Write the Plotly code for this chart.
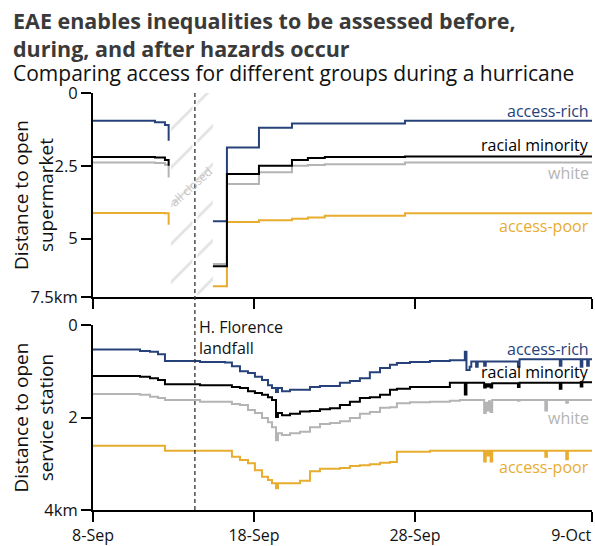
import pandas as pd
import plotly.graph_objects as go

START = pd.Timestamp("2018-09-08")
END = pd.Timestamp("2018-10-09")

SERIES = ["access-rich", "racial minority", "white", "access-poor"]
COLORS = {"access-rich": "#27427a", "racial minority": "#000000",
          "white": "#b4b4b4", "access-poor": "#e8ad2f"}

# ---- Top panel: distance to open supermarket (km), days since 8-Sep ----
top_days = [0, 3.85, 4.47, 4.7, 6.0, 7.45, 8.32, 10.31, 12.36, 13.35, 14.4, 19.38, 31]
top_rich = [0.95, 1.0, 1.1, 1.64, None, 4.4, 1.87, 1.19, 1.05, 1.05, 1.05, 0.95, 0.95]
top_minority = [2.2, 2.21, 2.3, 2.5, None, 5.95, 2.78, 2.5, 2.3, 2.23, 2.2, 2.18, 2.18]
top_white = [2.39, 2.4, 2.46, 2.9, None, 5.87, 3.12, 2.72, 2.5, 2.47, 2.45, 2.39, 2.39]
top_poor = [4.12, 4.12, 4.13, 4.52, None, 6.63, 4.43, 4.37, 4.32, 4.27, 4.21, 4.13, 4.13]

# ---- Bottom panel: distance to open service station (km) ----
bot_days = [0, 2.3, 2.92, 3.54, 4.04, 4.47, 6.65, 8.2, 8.63, 9.13, 9.63, 10.06, 10.5,
            10.87, 11.12, 11.37, 11.49, 11.74, 12.24, 12.86, 13.48, 14.1, 14.72, 15.34,
            15.96, 16.58, 17.2, 17.83, 18.45, 18.88, 19.69, 20.93, 22.17, 22.8, 23.1,
            23.2, 23.4, 23.5, 23.8, 23.9, 24.3, 24.4, 24.5, 24.6, 24.7, 24.8, 25.3,
            26.4, 26.5, 28.1, 28.2, 29.0, 29.1, 29.4, 29.5, 30.3, 30.4, 30.7, 30.8, 31.0]
bot_rich = [0.53, 0.53, 0.56, 0.58, 0.63, 0.78, 0.80, 0.81, 0.89, 1.0, 1.04, 1.12, 1.19,
            1.30, 1.36, 1.45, 1.36, 1.43, 1.40, 1.40, 1.34, 1.32, 1.32, 1.25, 1.21, 1.15,
            1.02, 0.93, 0.86, 0.82, 0.80, 0.78, 0.76, 0.76, 0.58, 0.97, 0.9, 0.79, 0.9,
            0.79, 0.88, 0.79, 0.79, 0.79, 0.79, 0.79, 0.79, 0.9, 0.74, 0.74, 0.74, 0.88,
            0.74, 0.74, 0.74, 0.9, 0.74, 0.88, 0.74, 0.74]
bot_minority = [1.10, 1.10, 1.12, 1.15, 1.19, 1.28, 1.30, 1.30, 1.34, 1.36, 1.43, 1.47,
                1.51, 1.56, 1.62, 1.99, 1.90, 1.95, 1.92, 1.87, 1.86, 1.82, 1.80, 1.73,
                1.66, 1.58, 1.56, 1.51, 1.40, 1.38, 1.34, 1.34, 1.25, 1.25, 1.5, 1.25,
                1.25, 1.25, 1.25, 1.25, 1.35, 1.28, 1.33, 1.28, 1.35, 1.26, 1.26, 1.34,
                1.25, 1.25, 1.25, 1.38, 1.25, 1.25, 1.25, 1.33, 1.24, 1.24, 1.24, 1.24]
bot_white = [1.49, 1.49, 1.51, 1.55, 1.58, 1.62, 1.66, 1.66, 1.71, 1.73, 1.84, 1.90, 2.01,
             2.10, 2.21, 2.49, 2.34, 2.38, 2.34, 2.31, 2.21, 2.14, 2.12, 2.08, 2.01, 1.92,
             1.88, 1.79, 1.78, 1.69, 1.67, 1.66, 1.64, 1.62, 1.62, 1.62, 1.62, 1.62, 1.62,
             1.62, 1.9, 1.68, 1.85, 1.65, 1.88, 1.62, 1.62, 1.64, 1.62, 1.85, 1.62, 1.62,
             1.62, 1.68, 1.62, 1.62, 1.62, 1.62, 1.62, 1.62]
bot_poor = [2.61, 2.61, 2.61, 2.61, 2.61, 2.72, 2.72, 2.72, 2.85, 2.92, 2.99, 3.14, 3.28,
            3.35, 3.42, 3.53, 3.42, 3.42, 3.42, 3.37, 3.16, 3.11, 3.11, 3.09, 3.05, 3.03,
            3.01, 2.98, 2.96, 2.74, 2.74, 2.72, 2.72, 2.72, 2.72, 2.72, 2.72, 2.72, 2.72,
            2.72, 2.95, 2.72, 2.82, 2.72, 2.95, 2.72, 2.72, 2.72, 2.72, 2.85, 2.72, 2.72,
            2.72, 2.9, 2.72, 2.72, 2.72, 2.72, 2.72, 2.72]

closure_days = [4.84, 7.45]        # "all closed" period
landfall_day = 6.33                # H. Florence landfall
date_ticks = ["2018-09-08", "2018-09-18", "2018-09-28", "2018-10-09"]
NB = "\u00a0"
date_ticktext = ["8-Sep", "18-Sep", "28-Sep", "9-Oct" + NB * 10]
top_ticks = [0, 2.5, 5, 7]
top_ticktext = ["0", "2.5", "5", "7.5km"]
bot_ticks = [0, 2, 4]
bot_ticktext = ["0", "2", "4km"]

TITLE = "<b>EAE enables inequalities to be assessed before,<br>during, and after hazards occur</b>"
SUBTITLE = "Comparing access for different groups during a hurricane"


def to_dates(days):
    return [START + pd.Timedelta(days=d) for d in days]


FONT = "Open Sans"
TXT = "#111111"
fig = go.Figure()

# hatched "all closed" block
cx = to_dates(closure_days)
fig.add_trace(go.Scatter(
    x=[cx[0], cx[1], cx[1], cx[0], cx[0]], y=[0, 0, 7, 7, 0],
    mode="lines", fill="toself", line=dict(width=0), fillcolor="rgba(0,0,0,0)",
    fillpattern=dict(shape="/", size=27, solidity=0.1, fgcolor="#c6c6c6",
                     bgcolor="rgba(0,0,0,0)"),
    hoverinfo="skip", showlegend=False, xaxis="x", yaxis="y"))

top_vals = {"access-rich": top_rich, "racial minority": top_minority,
            "white": top_white, "access-poor": top_poor}
bot_vals = {"access-rich": bot_rich, "racial minority": bot_minority,
            "white": bot_white, "access-poor": bot_poor}
order = ["white", "access-poor", "access-rich", "racial minority"]
for name in order:
    fig.add_trace(go.Scatter(x=to_dates(top_days), y=top_vals[name], mode="lines",
                             line=dict(color=COLORS[name], width=2, shape="hv"),
                             connectgaps=False, showlegend=False, xaxis="x", yaxis="y"))
for name in order:
    fig.add_trace(go.Scatter(x=to_dates(bot_days), y=bot_vals[name], mode="lines",
                             line=dict(color=COLORS[name], width=2, shape="hv"),
                             showlegend=False, xaxis="x2", yaxis="y2"))

# series labels
top_label_y = {"access-rich": 0.62, "racial minority": 1.78, "white": 2.74, "access-poor": 4.55}
bot_label_y = {"access-rich": 0.52, "racial minority": 1.02, "white": 2.01, "access-poor": 3.07}
for name in SERIES:
    fig.add_annotation(x=END, y=top_label_y[name], xref="x", yref="y", text=name,
                       xanchor="right", yanchor="middle", showarrow=False, xshift=-1,
                       font=dict(family=FONT, size=16, color=COLORS[name]))
    fig.add_annotation(x=END, y=bot_label_y[name], xref="x2", yref="y2", text=name,
                       xanchor="right", yanchor="middle", showarrow=False, xshift=-1,
                       font=dict(family=FONT, size=16, color=COLORS[name]))

landfall = START + pd.Timedelta(days=landfall_day)
fig.add_shape(type="line", x0=landfall, x1=landfall, y0=0, y1=7, xref="x", yref="y",
              line=dict(color="white", width=5), layer="above")
fig.add_shape(type="line", x0=landfall, x1=landfall, y0=0, y1=1, xref="x2", yref="paper",
              line=dict(color="#333333", width=1.3, dash="4px,3px"), layer="above")
fig.add_annotation(x=landfall, y=0, xref="x2", yref="y2", text="H. Florence<br>landfall",
                   xanchor="left", yanchor="top", align="left", showarrow=False, xshift=2,
                   yshift=11, font=dict(family=FONT, size=16, color=TXT))
fig.add_annotation(x=START + pd.Timedelta(days=6.1), y=3.2, xref="x", yref="y",
                   text="all closed", textangle=-42, showarrow=False,
                   font=dict(family=FONT, size=12, color="#c4c4c4"))

# axis titles
fig.add_annotation(x=0, y=0.5, xref="paper", yref="y domain", text="Distance to open<br>supermarket",
                   textangle=-90, showarrow=False, xshift=-59, xanchor="center",
                   font=dict(family=FONT, size=19, color=TXT))
fig.add_annotation(x=0, y=0.5, xref="paper", yref="y2 domain",
                   text="Distance to open<br>service station",
                   textangle=-90, showarrow=False, xshift=-59, xanchor="center",
                   font=dict(family=FONT, size=19, color=TXT))

# title + subtitle
fig.add_annotation(x=-0.164, y=1.213, xref="paper", yref="paper", text=TITLE, align="left",
                   showarrow=False, xanchor="left", yanchor="top",
                   font=dict(family=FONT, size=21.5, color="#3a3a3a"))
fig.add_annotation(x=-0.164, y=1.048, xref="paper", yref="paper", text=SUBTITLE,
                   showarrow=False, xanchor="left", yanchor="middle",
                   font=dict(family=FONT, size=21, color=TXT))

axis_common = dict(showline=True, linecolor="black", linewidth=2, ticks="outside",
                   tickwidth=2, tickcolor="black", showgrid=False, automargin=False,
                   zeroline=False)
tick_font = dict(family=FONT, size=16.5, color=TXT)

fig.update_layout(
    width=595, height=546,
    margin=dict(l=93, r=3, t=93, b=36, autoexpand=False),
    paper_bgcolor="white", plot_bgcolor="white",
    xaxis=dict(domain=[0, 1], anchor="y", type="date", range=[START, END], ticklen=10,
               tickvals=date_ticks, showticklabels=False, tickfont=tick_font, **axis_common),
    yaxis=dict(domain=[0.511, 1], anchor="x", range=[7, 0], tickvals=top_ticks, ticklen=10,
               ticktext=top_ticktext, tickfont=tick_font, **axis_common),
    xaxis2=dict(domain=[0, 1], anchor="y2", type="date", range=[START, END], ticklen=10,
                tickvals=date_ticks, ticktext=date_ticktext, ticklabeloverflow="allow",
                tickfont=dict(family=FONT, size=16, color=TXT), **axis_common),
    yaxis2=dict(domain=[0, 0.4436], anchor="x2", range=[4, 0], tickvals=bot_ticks, ticklen=10,
                ticktext=bot_ticktext, tickfont=tick_font, **axis_common),
)

# remove the browser's default 8px page margin so the figure fills the window exactly
fig.write_html("out.html", config={"displayModeBar": False},
               post_script="document.body.style.margin='0';document.body.style.overflow='hidden';")
